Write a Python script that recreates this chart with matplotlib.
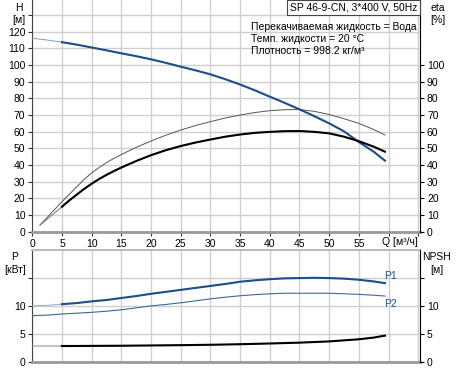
import matplotlib
matplotlib.use("Agg")
import matplotlib.pyplot as plt
import numpy as np

plt.rcParams["font.family"] = ["Liberation Sans", "DejaVu Sans"]
plt.rcParams["font.size"] = 7.5

# --- data --------------------------------------------------------------------
q_h = [0, 2.5, 5, 7.5, 10, 12.5, 15, 17.5, 20, 22.5, 25, 27.5, 30, 32.5, 35,
       37.5, 40, 42.5, 45, 47.5, 50, 52.5, 55, 57.5, 59.4]
head = [116, 115, 113.7, 112.2, 110.5, 108.8, 107, 105.3, 103.4, 101.3, 99,
        96.8, 94.4, 91.5, 88.3, 84.8, 81, 77.3, 73.4, 69.3, 65, 60.2, 53.8,
        48, 42.6]

q_eta = [1.3, 2.5, 3.75, 5, 6.25, 7.5, 8.75, 10, 11.25, 12.5, 13.75, 15, 17.5,
         20, 22.5, 25, 27.5, 30, 32.5, 35, 37.5, 40, 42.5, 45, 47.5, 50, 52.5,
         55, 57.5, 59.4]
eta_pump = [4, 8.5, 13.3, 18, 22.5, 27, 31.4, 35.3, 38.5, 41.4, 44, 46.3, 50.6,
            54.4, 57.9, 61, 63.7, 66, 68.2, 70, 71.5, 72.6, 73.2, 73.3, 72.2,
            70.3, 67.8, 65, 61.3, 58]
eta_total = [4, 7.5, 11.2, 15, 18.8, 22.3, 25.7, 28.8, 31.6, 34.1, 36.4, 38.5,
             42.4, 45.9, 48.9, 51.4, 53.5, 55.3, 57, 58.3, 59.3, 59.9, 60.3,
             60.4, 59.9, 59, 57, 54.3, 51, 48]

q_p = q_h
p1 = [10.05, 10.15, 10.35, 10.55, 10.85, 11.1, 11.45, 11.8, 12.2, 12.55, 12.9,
      13.25, 13.6, 13.95, 14.35, 14.6, 14.8, 14.95, 15.0, 15.05, 15.0, 14.9,
      14.7, 14.4, 14.1]
p2 = [8.3, 8.4, 8.6, 8.75, 8.9, 9.1, 9.35, 9.7, 10.05, 10.3, 10.6, 10.95, 11.3,
      11.6, 11.85, 12.05, 12.2, 12.3, 12.3, 12.3, 12.3, 12.2, 12.1, 11.95, 11.8]

q_npsh = [0, 3.8, 5, 10, 15, 20, 25, 30, 35, 40, 45, 50, 55, 57.5, 59.4]
npsh = [2.9, 2.9, 2.9, 2.92, 2.95, 3.0, 3.05, 3.12, 3.22, 3.35, 3.5, 3.72,
        4.1, 4.4, 4.75]

Q_MIN = 4.5  # below this the curves are drawn faint

x_ticks = list(range(0, 70, 5))
x_labels = [str(v) for v in range(0, 60, 5)] + ["", ""]
h_ticks = list(range(0, 140, 10))
h_labels = [str(v) for v in range(0, 130, 10)] + [""]
eta_ticks = list(range(0, 110, 10))
p_ticks = [0, 5, 10, 15]
p_labels = ["0", "5", "10", ""]

info_lines = ["Перекачиваемая жидкость = Вода",
              "Темп. жидкости = 20 °C",
              "Плотность = 998.2 кг/м³"]
title = "SP 46-9-CN, 3*400 V, 50Hz"

BLUE = "#1f4e8c"
GRID = "#cfcfcf"
W, H = 460, 371


def px(x, y):
    return x / W, 1 - y / H


def split_plot(ax, q, y, color, lw, faint_color):
    q = np.asarray(q, float)
    y = np.asarray(y, float)
    ax.plot(q, y, color=faint_color, lw=0.7, zorder=3)
    m = q >= Q_MIN
    ax.plot(q[m], y[m], color=color, lw=lw, zorder=4)


fig = plt.figure(figsize=(W / 100, H / 100), dpi=100)

# --- top panel: head and efficiency -------------------------------------------
ax = fig.add_axes([32.3 / W, 1 - 231.7 / H, (420 - 32.3) / W, 231.7 / H])
ax.set_xlim(0, 65.3)
ax.set_ylim(0, 139)
ax.set_xticks(x_ticks)
ax.set_xticklabels(x_labels)
ax.set_yticks(h_ticks)
ax.set_yticklabels(h_labels)
ax.grid(True, color=GRID, lw=1.0)
ax.set_axisbelow(True)
for s in ("top", "right"):
    ax.spines[s].set_visible(False)
ax.spines["left"].set_color("#444444")
ax.spines["bottom"].set_color("#999999")
ax.spines["bottom"].set_linewidth(2)
ax.tick_params(length=3, width=0.8, pad=2, colors="#333333", labelcolor="black")

split_plot(ax, q_h, head, BLUE, 1.5, "#7f9cc2")
ax.plot(q_eta, eta_pump, color="#555555", lw=0.7, zorder=3)
split_plot(ax, q_eta, eta_total, "black", 1.5, "#777777")

ax2 = ax.twinx()
ax2.set_ylim(0, 139)
ax2.set_yticks(eta_ticks)
for s in ("top", "left", "bottom"):
    ax2.spines[s].set_visible(False)
ax2.spines["right"].set_color("black")
ax2.tick_params(length=3, width=0.8, pad=2)

fig.text(*px(19, 8), "H", ha="center", va="center")
fig.text(*px(19, 20), "[м]", ha="center", va="center")
fig.text(*px(438, 8), "eta", ha="center", va="center")
fig.text(*px(438, 20), "[%]", ha="center", va="center")
fig.text(*px(382, 242), "Q [м³/ч]", ha="left", va="center")

fig.text(*px(290, 7.5), title, ha="left", va="center",
         bbox=dict(boxstyle="square,pad=0.25", fc="white", ec="#444444", lw=0.8))
for i, line in enumerate(info_lines):
    fig.text(*px(250.7, 27 + 12 * i), line, ha="left", va="center")

# --- bottom panel: power and NPSH ---------------------------------------------
bx = fig.add_axes([32.3 / W, 1 - 362.3 / H, (420 - 32.3) / W, 112.3 / H])
bx.set_xlim(0, 65.3)
bx.set_ylim(0, 20)
bx.set_xticks(x_ticks)
bx.set_yticks(p_ticks)
bx.set_yticklabels(p_labels)
bx.grid(True, color=GRID, lw=1.0)
bx.set_axisbelow(True)
bx.spines["right"].set_visible(False)
bx.spines["left"].set_color("#444444")
bx.spines["top"].set_color("#bbbbbb")
bx.spines["top"].set_linewidth(1.5)
bx.spines["bottom"].set_color("#999999")
bx.spines["bottom"].set_linewidth(2)
bx.tick_params(axis="x", length=0, labelbottom=False)
bx.tick_params(axis="y", length=3, width=0.8, pad=2, colors="#333333",
               labelcolor="black")

split_plot(bx, q_p, p1, BLUE, 1.5, "#8fa8c8")
bx.plot(q_p, p2, color="#3d67a0", lw=0.8, zorder=3)
split_plot(bx, q_npsh, npsh, "black", 1.5, "#888888")

bx2 = bx.twinx()
bx2.set_ylim(0, 20)
bx2.set_yticks(p_ticks)
bx2.set_yticklabels(p_labels)
for s in ("top", "left", "bottom"):
    bx2.spines[s].set_visible(False)
bx2.spines["right"].set_color("black")
bx2.tick_params(length=3, width=0.8, pad=2)

fig.text(*px(15, 257), "P", ha="center", va="center")
fig.text(*px(15, 270), "[кВт]", ha="center", va="center")
fig.text(*px(437, 257), "NPSH", ha="center", va="center")
fig.text(*px(437, 270), "[м]", ha="center", va="center")
fig.text(*px(384, 276), "P1", ha="left", va="center", color=BLUE)
fig.text(*px(384, 304), "P2", ha="left", va="center", color=BLUE)

fig.savefig("out.png", dpi=100)
